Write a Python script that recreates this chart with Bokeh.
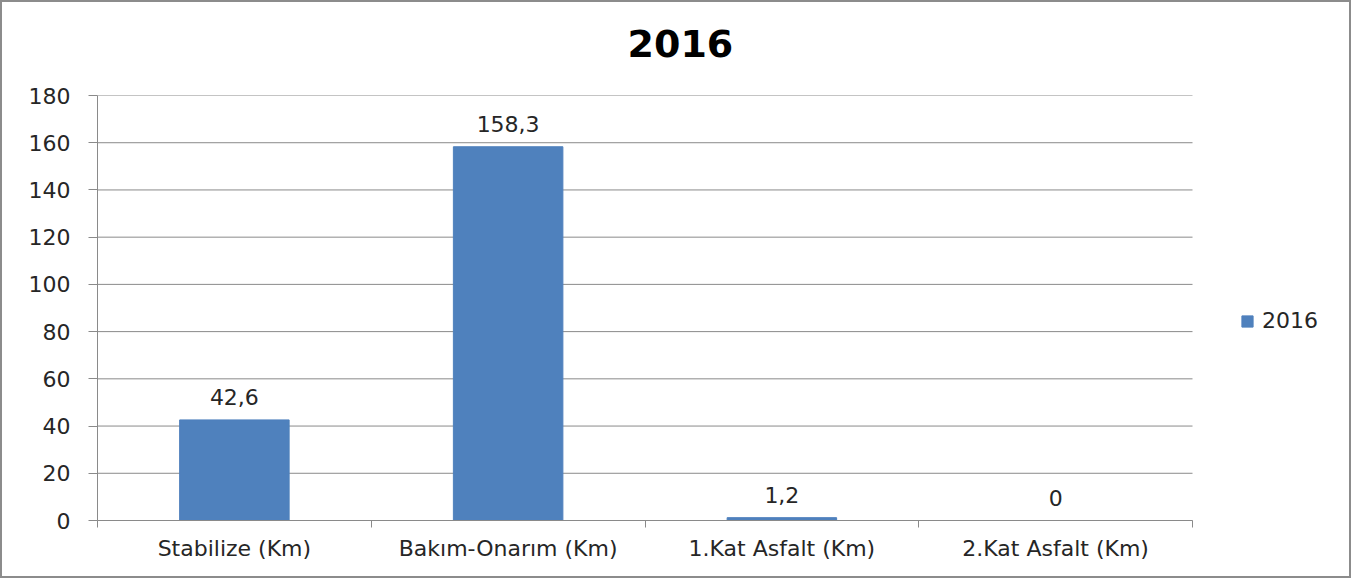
from bokeh.plotting import figure
from bokeh.models import ColumnDataSource, FixedTicker, Legend, LegendItem, Range1d, LabelSet, Title
from bokeh.core.properties import value
from bokeh.embed import file_html
from bokeh.resources import INLINE

categories = ["Stabilize (Km)", "Bakım-Onarım (Km)", "1.Kat Asfalt (Km)", "2.Kat Asfalt (Km)"]
values_2016 = [42.6, 158.3, 1.2, 0]
series_name = "2016"
chart_title = "2016"
y_ticks = [0, 20, 40, 60, 80, 100, 120, 140, 160, 180]

FONT = "DejaVu Sans"
BAR = "#4F81BD"
GRID = "#8a8a8a"
TXT = "#262626"

# layout (pixels)
W, H = 1351, 578
LEFT, TOP, BOTTOM, RIGHT = 95, 93, 60, 2
CAT_AREA_PX = 1095          # width of the category area inside the frame
frame_w = W - LEFT - RIGHT
n = len(categories)
x_end = n * frame_w / CAT_AREA_PX

xs = [i + 0.5 for i in range(n)]
labels = [("%g" % v).replace(".", ",") for v in values_2016]
src = ColumnDataSource(dict(x=xs, top=values_2016, lab=labels))

p = figure(width=W, height=H, output_backend="svg", toolbar_location=None,
           x_range=Range1d(0, x_end), y_range=Range1d(0, 180),
           min_border_left=LEFT, min_border_right=RIGHT, min_border_top=TOP,
           min_border_bottom=BOTTOM)
p.title_location = None

# spacer between frame and title, then the title itself (farther from the frame)
p.add_layout(Title(text=" ", text_font_size="1px", standoff=34), "above")
p.add_layout(Title(text=chart_title, align="left", offset=530, vertical_align="top",
                   text_font=FONT, text_font_style="bold", text_font_size="38px",
                   text_color="#000000", standoff=0), "above")

p.outline_line_color = None
p.background_fill_color = "white"
p.border_fill_color = "white"
p.styles = {"border": "2px solid #8c8c8c", "box-sizing": "border-box"}

# horizontal gridlines limited to the category area
grid_src = ColumnDataSource(dict(y=y_ticks, x0=[0] * len(y_ticks), x1=[n] * len(y_ticks)))
p.segment(x0="x0", x1="x1", y0="y", y1="y", source=grid_src, line_color=GRID, line_width=1)

r = p.vbar(x="x", top="top", width=0.4, bottom=0, source=src, color=BAR, line_color=BAR)

p.add_layout(LabelSet(x="x", y="top", text="lab", source=src, text_align="center",
                      text_baseline="bottom", y_offset=15, text_font=value(FONT),
                      text_font_size="22px", text_color=TXT))

# x axis
p.xaxis.ticker = FixedTicker(ticks=xs, minor_ticks=list(range(n + 1)))
p.xaxis.major_label_overrides = {x: c for x, c in zip(xs, categories)}
p.xaxis.bounds = (0, n)
p.xaxis.major_tick_out = 0
p.xaxis.major_tick_in = 0
p.xaxis.minor_tick_out = 7
p.xaxis.minor_tick_in = 0
p.xaxis.minor_tick_line_color = GRID
p.xaxis.axis_line_color = GRID
p.xaxis.major_label_text_font = FONT
p.xaxis.major_label_text_font_size = "22px"
p.xaxis.major_label_text_color = TXT
p.xaxis.major_label_standoff = 8
p.xgrid.grid_line_color = None

# y axis
p.yaxis.ticker = FixedTicker(ticks=y_ticks, minor_ticks=[])
p.yaxis.major_tick_out = 9
p.yaxis.major_tick_in = 0
p.yaxis.major_tick_line_color = GRID
p.yaxis.axis_line_color = GRID
p.yaxis.major_label_text_font = FONT
p.yaxis.major_label_text_font_size = "22px"
p.yaxis.major_label_text_color = TXT
p.yaxis.major_label_standoff = 18
p.ygrid.grid_line_color = None

legend = Legend(items=[LegendItem(label=series_name, renderers=[r])],
                location=(1143, 187), margin=0, padding=0, border_line_color=None,
                background_fill_alpha=0, glyph_width=14, glyph_height=14,
                label_text_font=FONT, label_text_font_size="22px", label_text_color=TXT,
                label_standoff=8)
p.add_layout(legend)

open("out.html", "w").write(file_html(p, INLINE))
